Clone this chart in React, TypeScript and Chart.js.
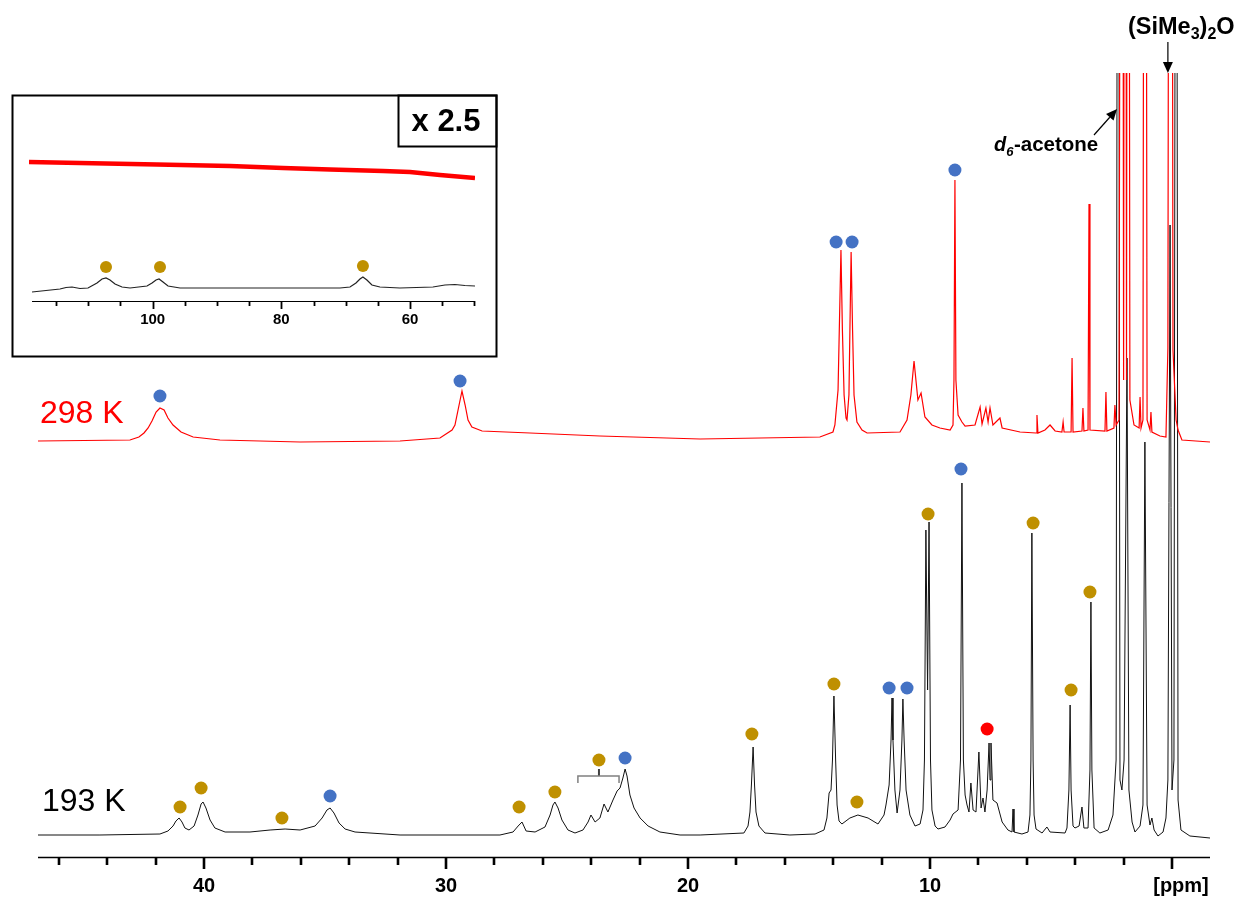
import React, { useEffect, useRef } from "react";
import { Chart, registerables } from "chart.js";

Chart.register(...registerables);

const FONT = '"Liberation Sans", Arial, Helvetica, sans-serif';
const RED = "#ff0000";
const BLUE = "#4472c4";
const GOLD = "#bf9000";
const BLACK = "#111111";
const TALL = 1600; // solvent/reference lines that run off the top of the plot

// ---------------- main 1H spectrum ----------------
const PPM_MIN = -1.57;
const PPM_MAX = 46.86;
const Y_MAX = 784;
const RED_OFFSET = 400; // vertical stacking of the 298 K trace
const AXIS_TICKS = [46, 44, 42, 40, 38, 36, 34, 32, 30, 28, 26, 24, 22, 20, 18, 16, 14, 12, 10, 8, 6, 4, 2, 0];
const AXIS_LABELS = [40, 30, 20, 10];
const UNIT_LABEL = "[ppm]";

// [ppm, intensity]
const SPECTRUM_193K: [number, number][] = [
  [46.86, 22], [44.3, 22], [41.82, 23], [41.49, 26], [41.28, 31], [41.16, 36], [41.03, 39], [40.91, 35],
  [40.79, 29], [40.62, 27], [40.41, 31], [40.25, 42], [40.12, 53], [40.04, 55], [39.92, 49], [39.75, 37],
  [39.55, 29], [39.13, 25], [38.1, 25], [37.27, 27], [36.65, 28], [36.03, 27], [35.41, 31], [35.12, 39],
  [34.92, 47], [34.79, 49], [34.63, 44], [34.42, 34], [34.17, 28], [33.76, 25], [31.9, 22], [27.77, 22],
  [27.23, 25], [27.02, 31], [26.86, 35], [26.69, 26], [26.32, 25], [25.91, 30], [25.7, 42], [25.58, 52],
  [25.5, 55], [25.37, 49], [25.21, 37], [24.96, 27], [24.67, 24], [24.34, 27], [24.13, 35], [24.01, 42],
  [23.84, 35], [23.64, 39], [23.47, 53], [23.31, 45], [23.1, 57], [22.93, 66], [22.81, 69], [22.69, 79],
  [22.6, 88], [22.52, 81], [22.4, 62], [22.23, 49], [21.98, 39], [21.65, 31], [21.16, 25], [20.33, 22],
  [19.5, 22], [17.69, 24], [17.52, 31], [17.44, 45], [17.38, 72], [17.31, 110], [17.25, 72], [17.19, 45],
  [17.07, 31], [16.82, 24], [15.79, 22], [14.75, 23], [14.38, 27], [14.26, 39], [14.17, 64], [14.09, 67],
  [14.03, 97], [13.97, 161], [13.9, 97], [13.84, 52], [13.76, 36], [13.64, 33], [13.31, 39], [12.98, 42],
  [12.56, 39], [12.15, 33], [11.9, 42], [11.82, 52], [11.69, 72], [11.61, 117], [11.57, 159], [11.53, 117],
  [11.45, 67], [11.36, 44], [11.24, 67], [11.16, 117], [11.12, 158], [11.07, 117], [10.99, 67], [10.83, 42],
  [10.62, 31], [10.41, 33], [10.29, 47], [10.23, 97], [10.17, 327], [10.1, 167], [10.04, 335], [9.98, 97],
  [9.92, 47], [9.79, 31], [9.67, 28], [9.38, 30], [9.17, 37], [9.05, 43], [8.84, 47], [8.74, 97],
  [8.68, 374], [8.62, 97], [8.55, 62], [8.47, 52], [8.39, 45], [8.31, 74], [8.22, 47], [8.1, 45],
  [7.98, 105], [7.89, 49], [7.81, 59], [7.73, 45], [7.64, 67], [7.56, 114], [7.52, 77], [7.48, 114],
  [7.4, 57], [7.23, 54], [7.02, 35], [6.78, 27], [6.61, 25], [6.57, 48], [6.53, 25], [6.2, 23],
  [5.95, 25], [5.87, 42], [5.83, 97], [5.79, 324], [5.74, 97], [5.7, 42], [5.62, 28], [5.37, 24],
  [5.17, 30], [5.04, 25], [4.42, 24], [4.34, 29], [4.26, 67], [4.21, 152], [4.17, 67], [4.09, 31],
  [4.01, 29], [3.84, 31], [3.72, 50], [3.64, 29], [3.47, 29], [3.39, 87], [3.35, 255], [3.31, 87],
  [3.22, 29], [2.98, 24], [2.64, 27], [2.44, 42], [2.31, 97], [2.23, TALL], [2.15, 77], [2.07, 67],
  [1.98, 97], [1.86, 499], [1.78, 67], [1.65, 35], [1.53, 25], [1.32, 31], [1.2, 52], [1.12, 415],
  [1.03, 52], [0.91, 32], [0.83, 39], [0.74, 27], [0.58, 21], [0.37, 25], [0.25, 39], [0.17, 77],
  [0.08, 632], [0.0, 67], [-0.08, 97], [-0.17, TALL], [-0.25, 57], [-0.37, 27], [-0.74, 21], [-1.57, 19],
];

const SPECTRUM_298K: [number, number][] = [
  [46.86, 16], [43.06, 17], [42.69, 20], [42.48, 24], [42.31, 29], [42.15, 36], [41.98, 45], [41.82, 49],
  [41.65, 47], [41.49, 39], [41.28, 32], [40.95, 25], [40.45, 20], [39.34, 17], [36.03, 15], [31.9, 16],
  [30.25, 19], [29.75, 27], [29.63, 32], [29.46, 52], [29.34, 66], [29.21, 52], [29.09, 37], [28.93, 30],
  [28.51, 26], [26.53, 24], [23.64, 21], [19.5, 18], [14.55, 20], [14.01, 25], [13.93, 32], [13.8, 67],
  [13.68, 207], [13.62, 127], [13.55, 62], [13.47, 39], [13.43, 37], [13.35, 62], [13.31, 127], [13.26, 205],
  [13.2, 127], [13.14, 62], [13.02, 35], [12.81, 27], [12.6, 24], [11.24, 25], [10.95, 37], [10.79, 62],
  [10.66, 96], [10.5, 57], [10.37, 64], [10.21, 40], [9.92, 32], [9.59, 29], [9.17, 27], [9.05, 32],
  [9.01, 77], [8.97, 277], [8.93, 77], [8.84, 42], [8.68, 35], [8.55, 31], [8.14, 32], [7.93, 50],
  [7.85, 33], [7.69, 49], [7.6, 35], [7.52, 49], [7.4, 32], [7.11, 39], [7.02, 29], [6.28, 25],
  [5.62, 24], [5.58, 42], [5.54, 24], [5.25, 27], [5.04, 32], [4.83, 26], [4.55, 25], [4.5, 35],
  [4.46, 25], [4.17, 25], [4.13, 99], [4.09, 25], [3.72, 26], [3.68, 49], [3.64, 26], [3.47, 27],
  [3.43, 253], [3.39, 27], [2.77, 26], [2.73, 65], [2.69, 26], [2.4, 29], [2.36, 52], [2.31, 32],
  [2.19, 37], [2.07, TALL], [2.0, 77], [1.94, TALL], [1.88, 77], [1.82, TALL], [1.74, 57], [1.57, 32],
  [1.36, 29], [1.32, 60], [1.28, 29], [1.2, 37], [1.12, TALL], [1.03, 37], [0.91, 27], [0.87, 45],
  [0.83, 25], [0.5, 21], [0.25, 20], [0.17, 109], [0.08, TALL], [0.04, TALL], [-0.04, 107], [-0.17, 37],
  [-0.25, 27], [-0.41, 17], [-1.57, 15],
];

// peak markers [ppm, height]
const DOTS_298K_BLUE: [number, number][] = [[41.82, 61], [29.42, 76], [13.88, 215], [13.22, 215], [8.97, 287]];
const DOTS_193K_GOLD: [number, number][] = [
  [40.99, 50], [40.12, 69], [36.78, 39], [26.98, 50], [25.5, 65], [23.68, 97], [17.36, 123],
  [13.97, 173], [13.02, 55], [10.08, 343], [5.74, 334], [4.17, 167], [3.39, 265],
];
const DOTS_193K_BLUE: [number, number][] = [[34.79, 61], [22.6, 99], [11.69, 169], [10.95, 169], [8.72, 388]];
const DOTS_193K_RED: [number, number][] = [[7.64, 128]];
const BRACKET: [number, number][] = [[24.55, 74], [24.55, 81], [22.85, 81], [22.85, 74]];
const BRACKET_STEM: [number, number][] = [[23.68, 81], [23.68, 88]];
const ACETONE_PPM = 2.27;
const SIME_PPM = 0.17;

// ---------------- inset (x 2.5) ----------------
const INSET_MIN = 49.9;
const INSET_MAX = 119.22;
const INSET_AXIS_START = 118.75;
const INSET_TICKS = [115, 110, 105, 100, 95, 90, 85, 80, 75, 70, 65, 60, 55, 50];
const INSET_LABELS = [100, 80, 60];
const INSET_Y_MAX = 151;
const INSET_298K: [number, number][] = [
  [119.22, 139], [111.3, 138], [99.33, 136.5], [87.98, 135], [79.74, 133], [72.43, 131.5],
  [64.19, 130], [60.0, 129], [55.34, 126], [49.9, 123],
];
const INSET_193K: [number, number][] = [
  [118.75, 9], [114.4, 12], [113.47, 13.5], [112.54, 14], [111.29, 12.5], [110.05, 13], [108.65, 18],
  [107.87, 22], [107.25, 23], [106.63, 21], [105.85, 17], [104.76, 14], [103.52, 13], [100.88, 15],
  [100.1, 18], [99.48, 21], [99.01, 22], [98.39, 19], [97.61, 15], [95.75, 13], [82.23, 13], [70.89, 13],
  [69.33, 14], [68.4, 18], [67.78, 22], [67.32, 24], [66.7, 21], [65.92, 16], [64.68, 14], [61.57, 13],
  [56.44, 14], [54.57, 16], [53.02, 16.5], [51.47, 15.5], [49.9, 15],
];
const INSET_GOLD: [number, number][] = [[107.25, 34], [98.86, 34], [67.32, 35]];

const pts = (arr: [number, number][], off = 0) => arr.map(([x, y]) => ({ x, y: y + off }));

const lineDs = (data: any[], color: string, width: number) => ({
  type: "line" as const,
  data,
  borderColor: color,
  borderWidth: width,
  pointRadius: 0,
  tension: 0,
  fill: false,
});

const dotDs = (data: any[], color: string, r: number) => ({
  type: "scatter" as const,
  data,
  backgroundColor: color,
  pointBackgroundColor: color,
  pointBorderWidth: 0,
  pointBorderColor: color,
  pointRadius: r,
  clip: false,
});

function arrow(ctx: CanvasRenderingContext2D, x1: number, y1: number, x2: number, y2: number) {
  const ang = Math.atan2(y2 - y1, x2 - x1);
  const hl = 11, hw = 5;
  const bx = x2 - hl * Math.cos(ang), by = y2 - hl * Math.sin(ang);
  ctx.beginPath();
  ctx.moveTo(x1, y1);
  ctx.lineTo(bx, by);
  ctx.stroke();
  ctx.beginPath();
  ctx.moveTo(x2, y2);
  ctx.lineTo(bx + hw * Math.sin(ang), by - hw * Math.cos(ang));
  ctx.lineTo(bx - hw * Math.sin(ang), by + hw * Math.cos(ang));
  ctx.closePath();
  ctx.fill();
}

const mainPlugin = {
  id: "mainDecor",
  afterDraw(chart: any) {
    const ctx: CanvasRenderingContext2D = chart.ctx;
    const xs = chart.scales.x;
    const a = chart.chartArea;
    ctx.save();
    // axis
    ctx.strokeStyle = "#000";
    ctx.fillStyle = "#000";
    ctx.lineWidth = 1.5;
    ctx.beginPath();
    ctx.moveTo(a.left, a.bottom + 0.5);
    ctx.lineTo(a.right, a.bottom + 0.5);
    ctx.stroke();
    ctx.lineWidth = 2.6;
    ctx.beginPath();
    for (const t of AXIS_TICKS) {
      const px = Math.round(xs.getPixelForValue(t));
      const major = t % 10 === 0;
      ctx.moveTo(px, a.bottom + 1);
      ctx.lineTo(px, a.bottom + (major ? 12 : 8));
    }
    ctx.stroke();
    ctx.font = `bold 20px ${FONT}`;
    ctx.textAlign = "center";
    ctx.textBaseline = "middle";
    for (const t of AXIS_LABELS) ctx.fillText(String(t), xs.getPixelForValue(t), 886);
    ctx.fillText(UNIT_LABEL, xs.getPixelForValue(0) + 9, 886);

    // temperature labels
    ctx.textAlign = "left";
    ctx.textBaseline = "alphabetic";
    ctx.font = `32px ${FONT}`;
    ctx.fillStyle = RED;
    ctx.fillText("298 K", 40, 423);
    ctx.fillStyle = "#000";
    ctx.fillText("193 K", 42, 811);

    // d6-acetone
    let x = 994;
    const by = 151;
    ctx.font = `italic bold 20px ${FONT}`;
    ctx.fillText("d", x, by);
    x += ctx.measureText("d").width;
    ctx.font = `italic bold 13px ${FONT}`;
    ctx.fillText("6", x, by + 5);
    x += ctx.measureText("6").width + 0.5;
    ctx.font = `bold 20.5px ${FONT}`;
    ctx.fillText("-acetone", x, by);
    ctx.lineWidth = 1.2;
    arrow(ctx, 1094, 135, xs.getPixelForValue(ACETONE_PPM), 109);

    // (SiMe3)2O
    x = 1128;
    const sy = 34;
    const big = `bold 23.5px ${FONT}`, small = `bold 16px ${FONT}`;
    const parts: [string, boolean][] = [["(SiMe", false], ["3", true], [")", false], ["2", true], ["O", false]];
    for (const [s, sub] of parts) {
      ctx.font = sub ? small : big;
      ctx.fillText(s, x, sub ? sy + 5 : sy);
      x += ctx.measureText(s).width;
    }
    ctx.lineWidth = 1.2;
    const sx = xs.getPixelForValue(SIME_PPM);
    arrow(ctx, sx, 42, sx, a.top);
    ctx.restore();
  },
};

const insetPlugin = {
  id: "insetDecor",
  beforeDraw(chart: any) {
    const ctx: CanvasRenderingContext2D = chart.ctx;
    ctx.save();
    ctx.fillStyle = "#fff";
    ctx.fillRect(0, 0, chart.width, chart.height);
    ctx.restore();
  },
  afterDraw(chart: any) {
    const ctx: CanvasRenderingContext2D = chart.ctx;
    const xs = chart.scales.x;
    const a = chart.chartArea;
    ctx.save();
    ctx.strokeStyle = "#000";
    ctx.fillStyle = "#000";
    ctx.lineWidth = 2;
    ctx.strokeRect(1.5, 1.5, chart.width - 3, chart.height - 3);
    ctx.strokeRect(387.5, 1.5, chart.width - 389, 51);
    ctx.font = `bold 31px ${FONT}`;
    ctx.textAlign = "center";
    ctx.textBaseline = "middle";
    ctx.fillText("x 2.5", 435, 28);

    // axis
    const y0 = a.bottom + 0.5;
    ctx.lineWidth = 1.2;
    ctx.beginPath();
    ctx.moveTo(xs.getPixelForValue(INSET_AXIS_START), y0);
    ctx.lineTo(a.right, y0);
    ctx.stroke();
    ctx.lineWidth = 1.8;
    ctx.beginPath();
    for (const t of INSET_TICKS) {
      const px = Math.round(xs.getPixelForValue(t)) + 0.5;
      const major = INSET_LABELS.includes(t);
      ctx.moveTo(px, a.bottom);
      ctx.lineTo(px, a.bottom + (major ? 8 : 5));
    }
    ctx.stroke();
    ctx.font = `bold 15px ${FONT}`;
    for (const t of INSET_LABELS) ctx.fillText(String(t), xs.getPixelForValue(t), 226);
    ctx.restore();
  },
};

export default function App() {
  const mainRef = useRef<HTMLCanvasElement>(null);
  const insetRef = useRef<HTMLCanvasElement>(null);

  useEffect(() => {
    const main = new Chart(mainRef.current!, {
      type: "line",
      data: {
        datasets: [
          dotDs(pts(DOTS_193K_RED), RED, 6.5),
          dotDs(pts(DOTS_193K_BLUE), BLUE, 6.5),
          dotDs(pts(DOTS_193K_GOLD), GOLD, 6.5),
          dotDs(pts(DOTS_298K_BLUE, RED_OFFSET), BLUE, 6.5),
          lineDs(pts(BRACKET), "#808080", 1.5),
          lineDs(pts(BRACKET_STEM), "#404040", 2),
          lineDs(pts(SPECTRUM_298K, RED_OFFSET), RED, 1.2),
          lineDs(pts(SPECTRUM_193K), BLACK, 1),
        ] as any,
      },
      options: {
        responsive: false,
        animation: false,
        events: [],
        layout: { padding: { left: 38, right: 38, top: 73, bottom: 41 } },
        plugins: { legend: { display: false }, tooltip: { enabled: false } },
        scales: {
          x: { type: "linear", reverse: true, min: PPM_MIN, max: PPM_MAX, display: false },
          y: { type: "linear", min: 0, max: Y_MAX, display: false },
        },
      },
      plugins: [mainPlugin],
    } as any);

    const inset = new Chart(insetRef.current!, {
      type: "line",
      data: {
        datasets: [
          dotDs(pts(INSET_GOLD), GOLD, 6),
          lineDs(pts(INSET_193K), "#222", 1.2),
          lineDs(pts(INSET_298K), RED, 4.5),
        ] as any,
      },
      options: {
        responsive: false,
        animation: false,
        events: [],
        layout: { padding: { left: 18, right: 23, top: 56, bottom: 57 } },
        plugins: { legend: { display: false }, tooltip: { enabled: false } },
        scales: {
          x: { type: "linear", reverse: true, min: INSET_MIN, max: INSET_MAX, display: false },
          y: { type: "linear", min: 0, max: INSET_Y_MAX, display: false },
        },
      },
      plugins: [insetPlugin],
    } as any);

    return () => {
      main.destroy();
      inset.destroy();
    };
  }, []);

  return (
    <div style={{ position: "absolute", left: 0, top: 0, width: 1248, height: 898, background: "#fff" }}>
      <canvas ref={mainRef} width={1248} height={898} style={{ position: "absolute", left: 0, top: 0, width: 1248, height: 898 }} />
      <canvas ref={insetRef} width={487} height={264} style={{ position: "absolute", left: 11, top: 94, width: 487, height: 264 }} />
    </div>
  );
}
